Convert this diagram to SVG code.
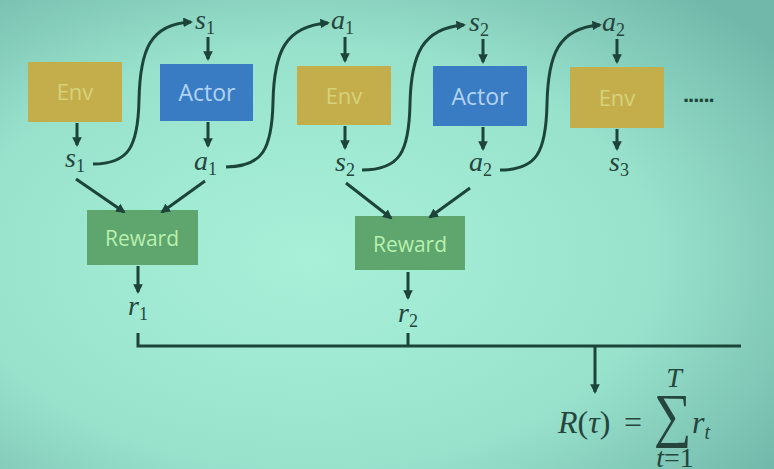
<svg xmlns="http://www.w3.org/2000/svg" width="774" height="469" viewBox="0 0 774 469">
<defs>
<radialGradient id="bg" cx="0.4" cy="0.55" r="0.75">
<stop offset="0" stop-color="#a8f0d8"/>
<stop offset="0.6" stop-color="#98e2cc"/>
<stop offset="1" stop-color="#72b8aa"/>
</radialGradient>
<marker id="ah" viewBox="0 0 10 10" refX="8" refY="5" markerWidth="3.2" markerHeight="3.2" orient="auto">
<path d="M0,0 L10,5 L0,10 Z" fill="#1c4438"/>
</marker>
<style>
.env{fill:#c4ae4c}
.envt{fill:#d6d27a;font-family:"Open Sans",sans-serif;font-size:22px;text-anchor:middle}
.act{fill:#3a7cc4}
.actt{fill:#b0d4f2;font-family:"Open Sans",sans-serif;font-size:23px;text-anchor:middle}
.rew{fill:#5ea66e}
.rewt{fill:#b8f0b0;font-family:"Open Sans",sans-serif;font-size:21px;text-anchor:middle}
.m{fill:#25453d;font-family:"Liberation Serif",serif;font-style:italic;font-size:28px}
.f{fill:#25453d;font-family:"Liberation Serif",serif;font-size:32px}
.sub{font-size:18px;font-style:normal}
.ln{stroke:#1c4438;stroke-width:3;fill:none}
.ar{stroke:#1c4438;stroke-width:3;fill:none;marker-end:url(#ah)}
</style>
</defs>
<rect width="774" height="469" fill="url(#bg)"/>

<g id="env1"><rect class="env" x="28" y="62" width="94" height="60"/><text class="envt" x="75" y="100">Env</text></g>
<g id="actor1"><rect class="act" x="160" y="64" width="93" height="57"/><text class="actt" x="207" y="101">Actor</text></g>
<g id="env2"><rect class="env" x="297" y="66" width="94" height="59"/><text class="envt" x="344" y="104">Env</text></g>
<g id="actor2"><rect class="act" x="433" y="66" width="94" height="60"/><text class="actt" x="480" y="105">Actor</text></g>
<g id="env3"><rect class="env" x="570" y="67" width="94" height="61"/><text class="envt" x="617" y="106">Env</text></g>
<g id="reward1"><rect class="rew" x="87" y="210" width="111" height="55"/><text class="rewt" x="142" y="246">Reward</text></g>
<g id="reward2"><rect class="rew" x="355" y="216" width="110" height="54"/><text class="rewt" x="410" y="252">Reward</text></g>

<g id="labels">
<text class="m" x="195" y="29">s<tspan class="sub" dy="5">1</tspan></text>
<text class="m" x="331" y="29">a<tspan class="sub" dy="5">1</tspan></text>
<text class="m" x="469" y="31">s<tspan class="sub" dy="5">2</tspan></text>
<text class="m" x="602" y="31">a<tspan class="sub" dy="5">2</tspan></text>
<text class="m" x="65" y="167">s<tspan class="sub" dy="5">1</tspan></text>
<text class="m" x="194" y="170">a<tspan class="sub" dy="5">1</tspan></text>
<text class="m" x="335" y="171">s<tspan class="sub" dy="5">2</tspan></text>
<text class="m" x="469" y="171">a<tspan class="sub" dy="5">2</tspan></text>
<text class="m" x="609" y="171">s<tspan class="sub" dy="5">3</tspan></text>
<text class="m" x="128" y="315">r<tspan class="sub" dy="5">1</tspan></text>
<text class="m" x="398" y="322">r<tspan class="sub" dy="5">2</tspan></text>
<text x="683" y="102" fill="#1c4438" font-family="Liberation Sans,sans-serif" font-size="22" font-weight="bold" letter-spacing="-1">......</text>
</g>

<g id="formula">
<text class="f" x="558" y="433"><tspan font-style="italic">R</tspan>(<tspan font-style="italic">τ</tspan>)</text>
<text class="f" x="624" y="433">=</text>
<text transform="translate(654,435) scale(0.88,1)" fill="#25453d" font-family="Liberation Serif,serif" font-size="60">∑</text>
<text class="m" x="674" y="387" font-size="17" text-anchor="middle">T</text>
<text class="m" x="675" y="467" font-size="16" text-anchor="middle">t<tspan font-style="normal">=1</tspan></text>
<text class="f" x="692" y="433" font-style="italic">r<tspan font-size="20" dy="6">t</tspan></text>
</g>

<g id="connectors">
<path class="ar" d="M208 37 V59"/>
<path class="ar" d="M345 37 V61"/>
<path class="ar" d="M483 39 V62"/>
<path class="ar" d="M617 39 V62"/>
<path class="ar" d="M77 123 V145"/>
<path class="ar" d="M208 122 V146"/>
<path class="ar" d="M345 126 V148"/>
<path class="ar" d="M483 127 V149"/>
<path class="ar" d="M617 129 V149"/>
<path class="ar" d="M93 164 C128 164 138 148 139 100 C140 50 150 24 191 22"/>
<path class="ar" d="M226 167 C262 167 272 150 273 102 C274 52 285 26 328 23"/>
<path class="ar" d="M362 170 C400 170 409 152 410 104 C411 55 422 28 464 25"/>
<path class="ar" d="M500 170 C537 170 546 152 547 104 C548 55 558 28 600 25"/>
<path class="ar" d="M76 179 L124 212"/>
<path class="ar" d="M205 181 L162 212"/>
<path class="ar" d="M346 183 L391 218"/>
<path class="ar" d="M470 188 L430 217"/>
<path class="ar" d="M138 266 V292"/>
<path class="ar" d="M408 272 V298"/>
<path class="ln" d="M138 333 V346 H741 M408 333 V346"/>
<path class="ar" d="M595 346 V392"/>
</g>
</svg>
